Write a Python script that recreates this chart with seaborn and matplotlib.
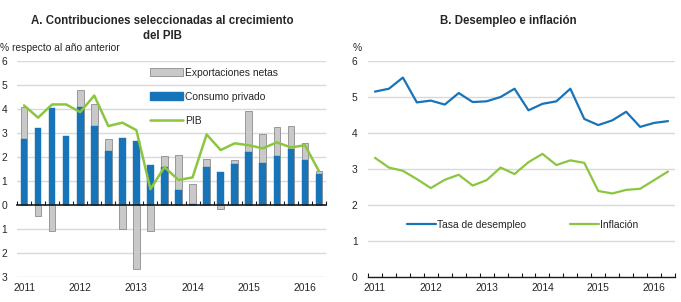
import numpy as np
import pandas as pd
import matplotlib
matplotlib.use("Agg")
import matplotlib.pyplot as plt
import seaborn as sns
from matplotlib.patches import Patch
from matplotlib.lines import Line2D

# ---------------- data ----------------
quarters = ["2011Q1", "2011Q2", "2011Q3", "2011Q4",
            "2012Q1", "2012Q2", "2012Q3", "2012Q4",
            "2013Q1", "2013Q2", "2013Q3", "2013Q4",
            "2014Q1", "2014Q2", "2014Q3", "2014Q4",
            "2015Q1", "2015Q2", "2015Q3", "2015Q4",
            "2016Q1", "2016Q2"]
year_labels = ["2011", "2012", "2013", "2014", "2015", "2016"]

consumo = [2.75, 3.19, 4.06, 2.89, 4.07, 3.29, 2.25, 2.78, 2.67, 1.67, 1.60, 0.63,
           0.06, 1.60, 1.37, 1.72, 2.21, 1.76, 2.03, 2.33, 1.89, 1.30]
exportaciones = [1.35, -0.46, -1.08, 0.0, 0.71, 0.92, 0.51, -0.99, -2.65, -1.07, 0.45, 1.45,
                 0.81, 0.30, -0.17, 0.14, 1.71, 1.18, 1.21, 0.95, 0.69, 0.12]
pib = [4.15, 3.64, 4.19, 4.19, 3.87, 4.56, 3.29, 3.43, 3.12, 0.66, 1.58, 1.04,
       1.15, 2.94, 2.29, 2.57, 2.49, 2.36, 2.61, 2.40, 2.49, 1.41]

desempleo = [5.15, 5.23, 5.54, 4.85, 4.90, 4.79, 5.11, 4.86, 4.88, 5.00, 5.23, 4.63,
             4.81, 4.88, 5.23, 4.39, 4.22, 4.35, 4.59, 4.17, 4.28, 4.33]
inflacion = [3.31, 3.04, 2.95, 2.72, 2.47, 2.70, 2.84, 2.54, 2.69, 3.04, 2.86, 3.19,
             3.42, 3.11, 3.24, 3.17, 2.39, 2.32, 2.42, 2.45, 2.69, 2.93]

left_yticks = [-3, -2, -1, 0, 1, 2, 3, 4, 5, 6]
left_yticklabels = ["3", "2", "1", "0", "1", "2", "3", "4", "5", "6"]
right_yticks = [0, 1, 2, 3, 4, 5, 6]

# ---------------- styling ----------------
BLUE = "#1874b9"
GREEN = "#8cc63f"
GREY = "#c9c9c9"
GREY_EDGE = "#8c8c8c"
GRID = "#d9d9d9"
SMALL = 7.4

sns.set_theme(style="white")
plt.rcParams["font.family"] = ["Liberation Sans Narrow", "Liberation Sans", "DejaVu Sans"]
plt.rcParams["font.size"] = SMALL

fig = plt.figure(figsize=(6.81, 3.02), dpi=100)
W, H = 681.0, 302.0

def px_axes(x0, y0, x1, y1):
    return fig.add_axes([x0 / W, 1 - y1 / H, (x1 - x0) / W, (y1 - y0) / H])

axA = px_axes(17, 61, 326, 277)
axB = px_axes(368, 61, 675, 277)

pos = np.arange(len(quarters))
cons = np.array(consumo)
exp_ = np.array(exportaciones)
grey_heights = np.where(exp_ > 0, cons + exp_, exp_)

dfA = pd.DataFrame({"q": quarters, "pos": pos, "grey": grey_heights,
                    "cons": cons, "pib": pib})

# ---------------- panel A ----------------
for y in left_yticks:
    if y != 0:
        axA.axhline(y, color=GRID, lw=1.0, zorder=0)

sns.barplot(data=dfA, x="q", y="grey", color=GREY, edgecolor=GREY_EDGE,
            linewidth=0.6, width=0.47, saturation=1, ax=axA, zorder=2)
sns.barplot(data=dfA, x="q", y="cons", color=BLUE, edgecolor=BLUE,
            linewidth=0.3, width=0.47, saturation=1, ax=axA, zorder=3)
sns.lineplot(data=dfA, x="pos", y="pib", color=GREEN, lw=1.8, ax=axA, zorder=4)

axA.set_xlim(-0.5, len(quarters) - 0.5)
axA.set_ylim(-3, 6)
axA.set_xlabel("")
axA.set_ylabel("")
for s in ["top", "right", "left"]:
    axA.spines[s].set_visible(False)
axA.spines["bottom"].set_position(("data", 0))
axA.spines["bottom"].set_color("#1a1a1a")
axA.spines["bottom"].set_linewidth(1.2)
axA.spines["bottom"].set_zorder(5)
axA.set_xticks(np.arange(-0.5, len(quarters) + 0.5, 1.0))
axA.tick_params(axis="x", direction="in", length=3, width=0.8, color="#1a1a1a",
                labelbottom=False, bottom=True)
axA.set_yticks(left_yticks)
axA.set_yticklabels(left_yticklabels)
axA.tick_params(axis="y", length=0, pad=7, labelsize=SMALL)

secA = axA.secondary_xaxis("bottom")
secA.set_xticks(pos[::4])
secA.set_xticklabels(year_labels)
secA.tick_params(length=0, pad=4, labelsize=SMALL)
secA.spines["bottom"].set_visible(False)

hA = [Patch(facecolor=GREY, edgecolor=GREY_EDGE, linewidth=0.6),
      Patch(facecolor=BLUE, edgecolor=BLUE),
      Line2D([0], [0], color=GREEN, lw=1.8)]
axA.legend(hA, ["Exportaciones netas", "Consumo privado", "PIB"],
           loc="upper left", bbox_to_anchor=(150 / W, 1 - 68 / H),
           bbox_transform=fig.transFigure, frameon=False, fontsize=SMALL,
           handlelength=3.2, handleheight=0.8, handletextpad=0.2,
           labelspacing=1.35, borderpad=0, borderaxespad=0)

# ---------------- panel B ----------------
for y in right_yticks[1:]:
    axB.axhline(y, color=GRID, lw=1.0, zorder=0)

dfB = pd.DataFrame({"pos": pos, "des": desempleo, "inf": inflacion})
sns.lineplot(data=dfB, x="pos", y="des", color=BLUE, lw=1.6, ax=axB, zorder=3)
sns.lineplot(data=dfB, x="pos", y="inf", color=GREEN, lw=1.6, ax=axB, zorder=3)

axB.set_xlim(-0.5, len(quarters) - 0.5)
axB.set_ylim(0, 6)
axB.set_xlabel("")
axB.set_ylabel("")
for s in ["top", "right", "left"]:
    axB.spines[s].set_visible(False)
axB.spines["bottom"].set_color("#1a1a1a")
axB.spines["bottom"].set_linewidth(1.0)
axB.set_xticks(np.arange(-0.5, len(quarters) + 0.5, 1.0))
axB.tick_params(axis="x", direction="in", length=3, width=0.8, color="#1a1a1a",
                labelbottom=False, bottom=True)
axB.set_yticks(right_yticks)
axB.tick_params(axis="y", length=0, pad=7.5, labelsize=SMALL)

secB = axB.secondary_xaxis("bottom")
secB.set_xticks(pos[::4])
secB.set_xticklabels(year_labels)
secB.tick_params(length=0, pad=4, labelsize=SMALL)
secB.spines["bottom"].set_visible(False)

hB = [Line2D([0], [0], color=BLUE, lw=1.6), Line2D([0], [0], color=GREEN, lw=1.6)]
axB.legend(hB, ["Tasa de desempleo", "Inflación"], loc="center left",
           bbox_to_anchor=(407 / W, 1 - 225 / H), bbox_transform=fig.transFigure,
           ncol=2, frameon=False, fontsize=SMALL, handlelength=2.8,
           handletextpad=0.1, columnspacing=4.3, borderpad=0, borderaxespad=0)

# ---------------- titles ----------------
TITLE = 8.3
fig.text(162 / W, 1 - 21 / H, "A. Contribuciones seleccionadas al crecimiento",
         ha="center", va="center", fontsize=TITLE, fontweight="bold")
fig.text(162 / W, 1 - 36 / H, "del PIB", ha="center", va="center",
         fontsize=TITLE, fontweight="bold")
fig.text(508 / W, 1 - 21 / H, "B. Desempleo e inflación", ha="center",
         va="center", fontsize=TITLE, fontweight="bold")
fig.text(0 / W, 1 - 48 / H, "% respecto al año anterior", ha="left",
         va="center", fontsize=SMALL)
fig.text(353 / W, 1 - 48 / H, "%", ha="left", va="center", fontsize=SMALL)

fig.savefig("out.png", dpi=100)
